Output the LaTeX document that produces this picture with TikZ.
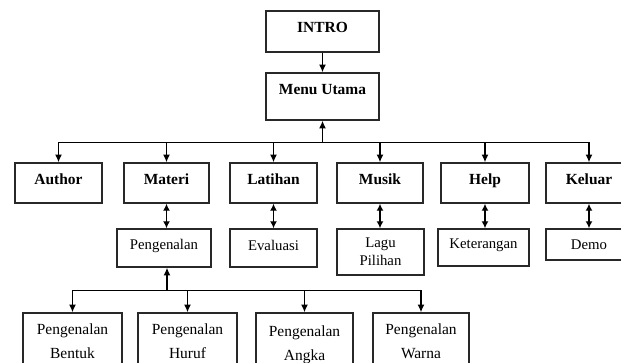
\documentclass[tikz,border=0pt]{standalone}
\usepackage{fontspec}
\setmainfont{Liberation Serif}
\usepackage{tikz}
\usetikzlibrary{shapes,arrows,arrows.meta,positioning,calc,shadows}
\definecolor{boxline}{RGB}{40, 40, 40}
\definecolor{menushadow}{RGB}{200, 160, 165}
\definecolor{subshadow}{RGB}{175, 195, 170}

\begin{document}
\begin{tikzpicture}[
    box/.style={rectangle, draw=boxline, line width=1pt, fill=white, inner sep=2pt},
    menubox/.style={box, font=\fontsize{11}{13}\selectfont\bfseries, text depth=0.2cm,
        drop shadow={shadow xshift=0.8pt, shadow yshift=-0.8pt, fill=menushadow, opacity=0.8}},
    subbox/.style={box, font=\fontsize{10.5}{13}\selectfont, align=center,
        drop shadow={shadow xshift=0.8pt, shadow yshift=-0.8pt, fill=subshadow, opacity=0.8}},
    leafbox/.style={box, font=\fontsize{11}{17}\selectfont, align=center},
    arr/.style={-{Latex[length=5.5pt,width=5pt]}, line width=1pt},
    dbl/.style={{Latex[length=5pt,width=5pt]}-{Latex[length=5pt,width=5pt]}, line width=1pt}
]

\clip (0,0) rectangle (15.525,9.075);

% Top
\node[menubox, minimum width=2.825cm, minimum height=1.025cm] (intro) at (8.0625,8.2875) {INTRO};
\node[menubox, minimum width=2.825cm, minimum height=1.175cm, text depth=0.375cm] (menu) at (8.0625,6.6625) {Menu Utama};

% Menu row
\node[menubox, minimum width=2.175cm, minimum height=1cm] (author) at (1.4625,4.5) {Author};
\node[menubox, minimum width=2.125cm, minimum height=1cm] (materi) at (4.1625,4.5) {Materi};
\node[menubox, minimum width=2.175cm, minimum height=1cm] (latihan) at (6.8375,4.5) {Latihan};
\node[menubox, minimum width=2.15cm, minimum height=1cm] (musik) at (9.5,4.5) {Musik};
\node[menubox, minimum width=2.2cm, minimum height=1cm] (help) at (12.125,4.5) {Help};
\node[menubox, minimum width=2.15cm, minimum height=1cm] (keluar) at (14.725,4.5) {Keluar};

% Sub menus
\node[subbox, minimum width=2.35cm, minimum height=0.95cm, text depth=0.2cm] (peng) at (4.1,2.875) {Pengenalan};
\node[subbox, minimum width=2.175cm, minimum height=0.95cm, text depth=0.15cm] (eval) at (6.8375,2.875) {Evaluasi};
\node[subbox, minimum width=2.175cm, minimum height=1.15cm] (lagu) at (9.5125,2.775) {Lagu\\Pilihan};
\node[subbox, minimum width=2.275cm, minimum height=0.925cm, text depth=0.2cm] (ket) at (12.0875,2.8875) {Keterangan};
\node[subbox, minimum width=2.15cm, minimum height=0.775cm] (demo) at (14.725,2.9625) {Demo};

% Pengenalan items
\node[leafbox, minimum width=2.475cm, minimum height=1.4cm] (bentuk) at (1.8125,0.55) {Pengenalan\\Bentuk};
\node[leafbox, minimum width=2.475cm, minimum height=1.4cm] (huruf) at (4.6875,0.55) {Pengenalan\\Huruf};
\node[leafbox, minimum width=2.425cm, minimum height=1.6cm] (angka) at (7.6125,0.45) {Pengenalan\\Angka};
\node[leafbox, minimum width=2.4cm, minimum height=1.4cm] (warna) at (10.525,0.55) {Pengenalan\\Warna};

% Connectors
\draw[arr] (intro) -- (menu);
\coordinate (bus) at ($(menu.south)+(0,-0.55)$);
\draw[arr] (bus) -- (menu);
\foreach \n in {author,materi,latihan,musik,help,keluar}
    \draw[arr] (bus) -| (\n);

\draw[dbl] (materi.south) -- (materi.south |- peng.north);
\draw[dbl] (latihan) -- (eval);
\draw[dbl] (musik) -- (musik |- lagu.north);
\draw[dbl] (help) -- (help |- ket.north);
\draw[dbl] (keluar) -- (demo);

\coordinate (bus2) at ($(peng.south)+(0.075,-0.575)$);
\draw[arr] (bus2) -- (bus2 |- peng.south);
\foreach \n in {bentuk,huruf,angka,warna}
    \draw[arr] (bus2) -| (\n);

\end{tikzpicture}
\end{document}
